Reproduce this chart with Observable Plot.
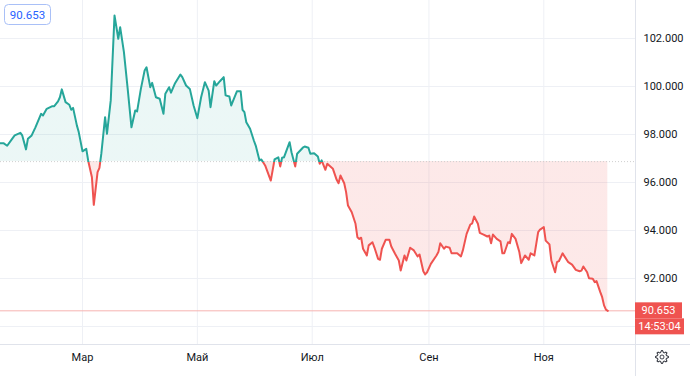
<!DOCTYPE html>
<html><head><meta charset="utf-8">
<script src="https://cdn.jsdelivr.net/npm/d3@7"></script>
<script src="https://cdn.jsdelivr.net/npm/@observablehq/plot@0.6"></script>
<style>
html,body{margin:0;padding:0;background:#fff;}
#chart{position:relative;width:690px;height:376px;overflow:hidden;}
</style></head><body><div id="chart"></div>
<script>
// Day offsets in 2020 (0 = 1 Jan 2020)
const dayOfYear = [16,18,20,23,24,27,28,30,31,33,35,38,39,41,44,45,47,48,49,51,53,54,55,57,58,60,62,63,65,66,68,69,70,72,73,75,
77,79,80,82,84,86,88,89,91,93,94,96,97,99,101,103,104,106,107,109,112,113,115,117,119,121,123,125,127,128,130,131,133,135,136,138,139,142,144,145,146,147,149,151,152,154,155,157,160,162,164,165,166,167,170,171,173,174,177,178,180,181,183,185,186,187,189,190,193,195,196,197,199,200,201,203,205,206,207,208,209,211,212,214,215,217,218,219,221,223,224,226,228,229,231,232,234,236,238,239,241,242,243,245,248,249,250,252,253,255,256,258,259,261,262,264,266,267,268,270,271,273,275,276,277,278,280,282,283,284,286,287,288,290,292,293,295,297,298,300,302,303,305,306,308,309,311,312,313,315,316,318,320,322,324,325,326,328,329,331,332,333,335,336,337,338,339];
const values = [97.64,97.64,97.53,97.86,97.96,98.07,97.96,97.38,97.82,97.96,98.30,98.86,98.79,99.07,99.18,99.18,99.38,99.55,99.88,99.35,99.24,99.03,99.11,98.38,98.10,97.30,97.40,96.92,96.22,95.07,96.43,96.61,97.20,98.72,98.03,99.42,
102.96,101.99,102.47,101.43,99.90,98.30,99.00,98.96,99.90,100.67,100.80,99.97,100.15,99.55,99.49,98.86,99.70,99.97,99.74,100.11,100.50,100.39,100.04,99.90,99.21,98.68,99.55,100.18,99.83,99.14,100.22,100.04,100.22,100.39,99.63,99.58,99.21,99.80,99.80,99.03,98.93,98.51,98.24,97.75,97.54,96.92,96.96,96.71,96.08,96.96,97.05,96.67,97.03,97.05,97.68,97.26,96.67,97.20,97.45,97.50,97.45,97.20,97.22,97.08,96.78,96.92,96.53,96.78,96.57,96.11,95.97,96.29,95.97,95.60,95.04,94.76,94.28,93.72,93.65,93.70,93.24,92.96,93.38,93.51,93.30,92.82,92.78,93.24,93.61,93.61,93.33,93.03,92.75,92.33,92.96,92.75,93.28,93.17,92.92,93.00,92.30,92.17,92.26,92.61,92.96,93.10,93.47,93.24,93.33,93.28,93.05,93.05,93.05,92.92,93.17,93.86,94.25,94.30,94.58,94.28,93.90,93.83,93.75,93.79,93.47,93.83,93.65,93.55,93.05,93.05,93.51,93.47,93.86,93.65,93.10,92.64,92.96,92.78,93.05,92.96,93.93,94.04,94.14,93.58,93.42,92.75,92.26,92.68,92.72,93.05,92.92,92.68,92.58,92.36,92.30,92.33,92.50,92.26,92.01,91.99,91.85,91.89,91.43,91.22,90.88,90.70,90.653];
const baseline = 96.87;
const lastPrice = 90.653;
const lastPriceLabel = "90.653";
const lastTimeLabel = "14:53:04";
const yTicks = [92, 94, 96, 98, 100, 102];
const yGridLines = [90, 92, 94, 96, 98, 100, 102];
const monthDays = [60, 121, 182, 244, 305];
const monthLabels = ["Мар", "Май", "Июл", "Сен", "Ноя"];
const xDomainDays = [16.45, 353.7];
const yDomain = [89.25, 103.583];

const GREEN = "#26a69a", RED = "#ef5350";
const W = 690, H = 376;
const toDate = d => new Date(Date.UTC(2020, 0, 1) + d * 86400000);
const data = dayOfYear.map((d, i) => ({date: toDate(d), value: values[i]}));
const monthDates = monthDays.map(toDate);
const monthLabelMap = new Map(monthDates.map((d, i) => [+d, monthLabels[i]]));

const chart = Plot.plot({
  width: W, height: H,
  marginLeft: 0, marginRight: 55, marginTop: 0, marginBottom: 32,
  style: {fontFamily: "Roboto, sans-serif", fontSize: "11px", color: "#131722", background: "#fff"},
  x: {type: "utc", domain: xDomainDays.map(toDate)},
  y: {domain: yDomain},
  marks: [
    Plot.ruleY(yGridLines, {stroke: "#eef0f5", strokeWidth: 1}),
    Plot.ruleX(monthDates, {stroke: "#eef0f5", strokeWidth: 1}),
    Plot.areaY(data, {x: "date", y1: baseline, y2: "value", fill: "url(#fillGrad)", clip: true}),
    Plot.ruleY([baseline], {stroke: "#cfcfcf", strokeDasharray: "1,2", strokeWidth: 1}),
    Plot.ruleY([lastPrice], {stroke: "#f6b3b1", strokeWidth: 1}),
    Plot.line(data, {x: "date", y: "value", stroke: "url(#lineGrad)", strokeWidth: 2, clip: true}),
    Plot.axisY(yTicks, {anchor: "right", tickSize: 0, tickPadding: 8, tickFormat: d3.format(".3f"), label: null}),
    Plot.axisX(monthDates, {anchor: "bottom", tickSize: 0, tickPadding: 9, tickFormat: d => monthLabelMap.get(+d), label: null})
  ]
});
document.getElementById("chart").appendChild(chart);

const svg = d3.select(chart);
const yS = chart.scale("y");
const by = yS.apply(baseline);
const off = by / H;
const defs = svg.insert("defs", ":first-child");
const lg = defs.append("linearGradient").attr("id", "lineGrad").attr("gradientUnits", "userSpaceOnUse")
  .attr("x1", 0).attr("y1", 0).attr("x2", 0).attr("y2", H);
lg.append("stop").attr("offset", off).attr("stop-color", GREEN);
lg.append("stop").attr("offset", off).attr("stop-color", RED);
const fg = defs.append("linearGradient").attr("id", "fillGrad").attr("gradientUnits", "userSpaceOnUse")
  .attr("x1", 0).attr("y1", 0).attr("x2", 0).attr("y2", H);
fg.append("stop").attr("offset", off).attr("stop-color", "rgba(38,166,154,0.09)");
fg.append("stop").attr("offset", off).attr("stop-color", "rgba(239,83,80,0.13)");

// frame borders
const plotRight = W - 55, plotBottom = H - 32;
svg.append("line").attr("x1", plotRight + 0.5).attr("x2", plotRight + 0.5).attr("y1", 0).attr("y2", H)
  .attr("stroke", "#e0e3eb");
svg.append("line").attr("x1", 0).attr("x2", W).attr("y1", plotBottom + 0.5).attr("y2", plotBottom + 0.5)
  .attr("stroke", "#e0e3eb");

// last price labels
const py = yS.apply(lastPrice);
const g = svg.append("g").attr("font-family", "Roboto, sans-serif").attr("font-size", 11);
g.append("rect").attr("x", plotRight).attr("y", py - 8).attr("width", 47).attr("height", 16).attr("fill", RED);
g.append("text").attr("x", plotRight + 23.5).attr("y", py).attr("dy", "0.35em").attr("text-anchor", "middle")
  .attr("fill", "#fff").text(lastPriceLabel);
g.append("rect").attr("x", plotRight).attr("y", py + 8).attr("width", 49).attr("height", 16).attr("fill", RED);
g.append("text").attr("x", plotRight + 24.5).attr("y", py + 16).attr("dy", "0.35em").attr("text-anchor", "middle")
  .attr("fill", "#fff").text(lastTimeLabel);

// top-left badge
g.append("rect").attr("x", 4.5).attr("y", 4.5).attr("width", 46).attr("height", 20).attr("rx", 4)
  .attr("fill", "#fff").attr("stroke", "#a9c0f7");
g.append("text").attr("x", 27.5).attr("y", 14.5).attr("dy", "0.35em").attr("text-anchor", "middle")
  .attr("fill", "#2962ff").attr("font-size", 11.5).text(lastPriceLabel);

// gear icon
const cx = 662, cy = 357, teeth = 8, rO = 6.5, rI = 4.6;
const pts = [];
for (let i = 0; i < teeth * 4; i++) {
  const a = (i / (teeth * 4)) * 2 * Math.PI;
  const r = (i % 4 === 0 || i % 4 === 1) ? rO : rI;
  pts.push([cx + r * Math.cos(a - Math.PI / (teeth * 4)), cy + r * Math.sin(a - Math.PI / (teeth * 4))]);
}
svg.append("path").attr("d", "M" + pts.map(p => p.join(",")).join("L") + "Z")
  .attr("fill", "none").attr("stroke", "#131722").attr("stroke-width", 1);
svg.append("circle").attr("cx", cx).attr("cy", cy).attr("r", 2).attr("fill", "none").attr("stroke", "#131722").attr("stroke-width", 0.8);
</script>
</body></html>
